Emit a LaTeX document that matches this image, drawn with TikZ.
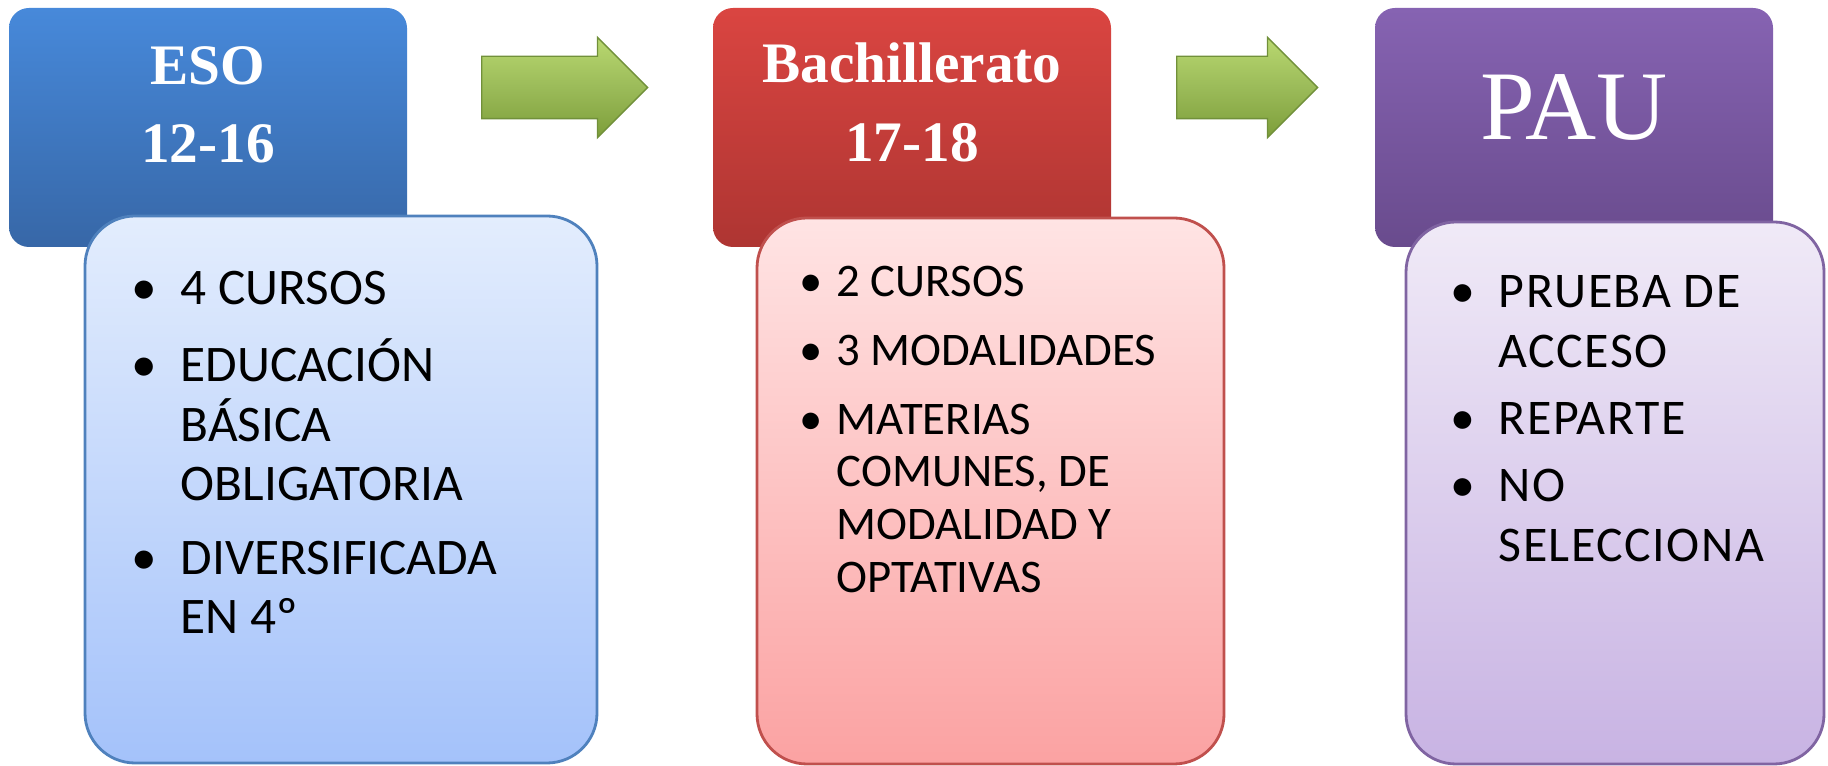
\documentclass[tikz,border=0pt]{standalone}
\usepackage{fontspec}
\setmainfont{Liberation Serif}
\newfontfamily\calib{Carlito}
\newfontfamily\calibS[LetterSpace=3]{Carlito}
\usetikzlibrary{positioning, shapes.arrows}
\definecolor{esoTop}{HTML}{4789DA}
\definecolor{esoBot}{HTML}{3767A7}
\definecolor{bachTop}{HTML}{DA4541}
\definecolor{bachBot}{HTML}{AE3532}
\definecolor{pauTop}{HTML}{8663B2}
\definecolor{pauBot}{HTML}{694B8D}
\definecolor{esoBTop}{HTML}{E3EDFD}
\definecolor{esoBBot}{HTML}{A4C2FA}
\definecolor{esoLine}{HTML}{4F81BD}
\definecolor{bachBTop}{HTML}{FFE4E4}
\definecolor{bachBBot}{HTML}{FBA2A2}
\definecolor{bachLine}{HTML}{C0504D}
\definecolor{pauBTop}{HTML}{F0EAF7}
\definecolor{pauBBot}{HTML}{C8B3E3}
\definecolor{pauLine}{HTML}{8064A2}
\definecolor{greenTop}{HTML}{B9D870}
\definecolor{greenMid}{HTML}{9BBB59}
\definecolor{greenBot}{HTML}{7D9E3A}
\definecolor{greenLine}{HTML}{71903A}
\newcommand\bul[1]{\makebox[#1][l]{\makebox[0.2cm]{\textbullet}}}
\tikzset{
    headG/.style args={#1 #2}{
        rounded corners=0.2cm, top color=#1, bottom color=#2, draw=none,
        minimum width=3.98cm, minimum height=2.39cm, inner sep=0pt
    },
    bodyG/.style args={#1 #2 #3}{
        rounded corners=0.5cm, top color=#1, bottom color=#2, draw=#3,
        line width=0.8pt, inner sep=0pt
    },
    greenA/.style={
        single arrow, single arrow head extend=0.19cm, single arrow tip angle=90,
        inner xsep=0pt, inner ysep=0.305cm, anchor=tail,
        top color=greenTop, bottom color=greenBot, middle color=greenMid,
        draw=greenLine, line width=0.4pt
    },
    hdTxt/.style={anchor=base, text=white, inner sep=0pt,
        font=\fontsize{16.3}{18}\selectfont\bfseries},
    listT/.style={anchor=base west, inner sep=0pt}
}
\begin{document}
\begin{tikzpicture}
    \useasboundingbox (0,0) rectangle (18.28,-7.66);
    \node[headG={esoTop esoBot}] (eso) at (2.08,-1.275) {};
    \node[headG={bachTop bachBot}] (bach) at (9.12,-1.275) {};
    \node[headG={pauTop pauBot}] (pau) at (15.74,-1.275) {};
    \node[hdTxt] (esoT1) at (2.08,-0.85) {ESO};
    \node[hdTxt] (esoT2) at (2.08,-1.63) {12-16};
    \node[hdTxt] (bachT1) at (9.12,-0.83) {Bachillerato};
    \node[hdTxt] (bachT2) at (9.12,-1.62) {17-18};
    \node[anchor=base, text=white, inner sep=0pt,
        font=\fontsize{28}{30}\selectfont] (pauT) at (15.74,-1.40) {PAU};
    % flechas
    \node[greenA, minimum height=1.66cm] (ar1) at (4.81,-0.875) {};
    \node[greenA, minimum height=1.41cm] (ar2) at (11.76,-0.875) {};
    % cuerpos
    \node[bodyG={esoBTop esoBBot esoLine}, minimum width=5.12cm, minimum height=5.47cm] (esoB) at (3.41,-4.895) {};
    \node[bodyG={bachBTop bachBBot bachLine}, minimum width=4.67cm, minimum height=5.46cm] (bachB) at (9.905,-4.91) {};
    \node[bodyG={pauBTop pauBBot pauLine}, minimum width=4.18cm, minimum height=5.42cm] (pauB) at (16.15,-4.93) {};
    \node[listT, font=\calib\fontsize{14.6}{16.64}\selectfont] (esoL) at (1.34,-3.05) {%
        \begin{tabular}[t]{@{}l@{}l@{}}
        \bul{0.46cm} & 4 CURSOS\\[4.55pt]
        \bul{0.46cm} & EDUCACIÓN\\
         & BÁSICA\\
         & OBLIGATORIA\\[4.55pt]
        \bul{0.46cm} & DIVERSIFICADA\\
         & EN 4º
        \end{tabular}};
    \node[listT, font=\calib\fontsize{13.3}{15.0}\selectfont] (bachL) at (8.00,-2.97) {%
        \begin{tabular}[t]{@{}l@{}l@{}}
        \bul{0.36cm} & 2 CURSOS\\[4.5pt]
        \bul{0.36cm} & 3 MODALIDADES\\[4.5pt]
        \bul{0.36cm} & MATERIAS\\
         & COMUNES, DE\\
         & MODALIDAD Y\\
         & OPTATIVAS
        \end{tabular}};
    \node[listT, font=\calibS\fontsize{14.2}{16.8}\selectfont] (pauL) at (14.52,-3.08) {%
        \begin{tabular}[t]{@{}l@{}l@{}}
        \bul{0.46cm} & PRUEBA DE\\
         & ACCESO\\[2.4pt]
        \bul{0.46cm} & REPARTE\\[2.4pt]
        \bul{0.46cm} & NO\\
         & SELECCIONA
        \end{tabular}};
\end{tikzpicture}
\end{document}
